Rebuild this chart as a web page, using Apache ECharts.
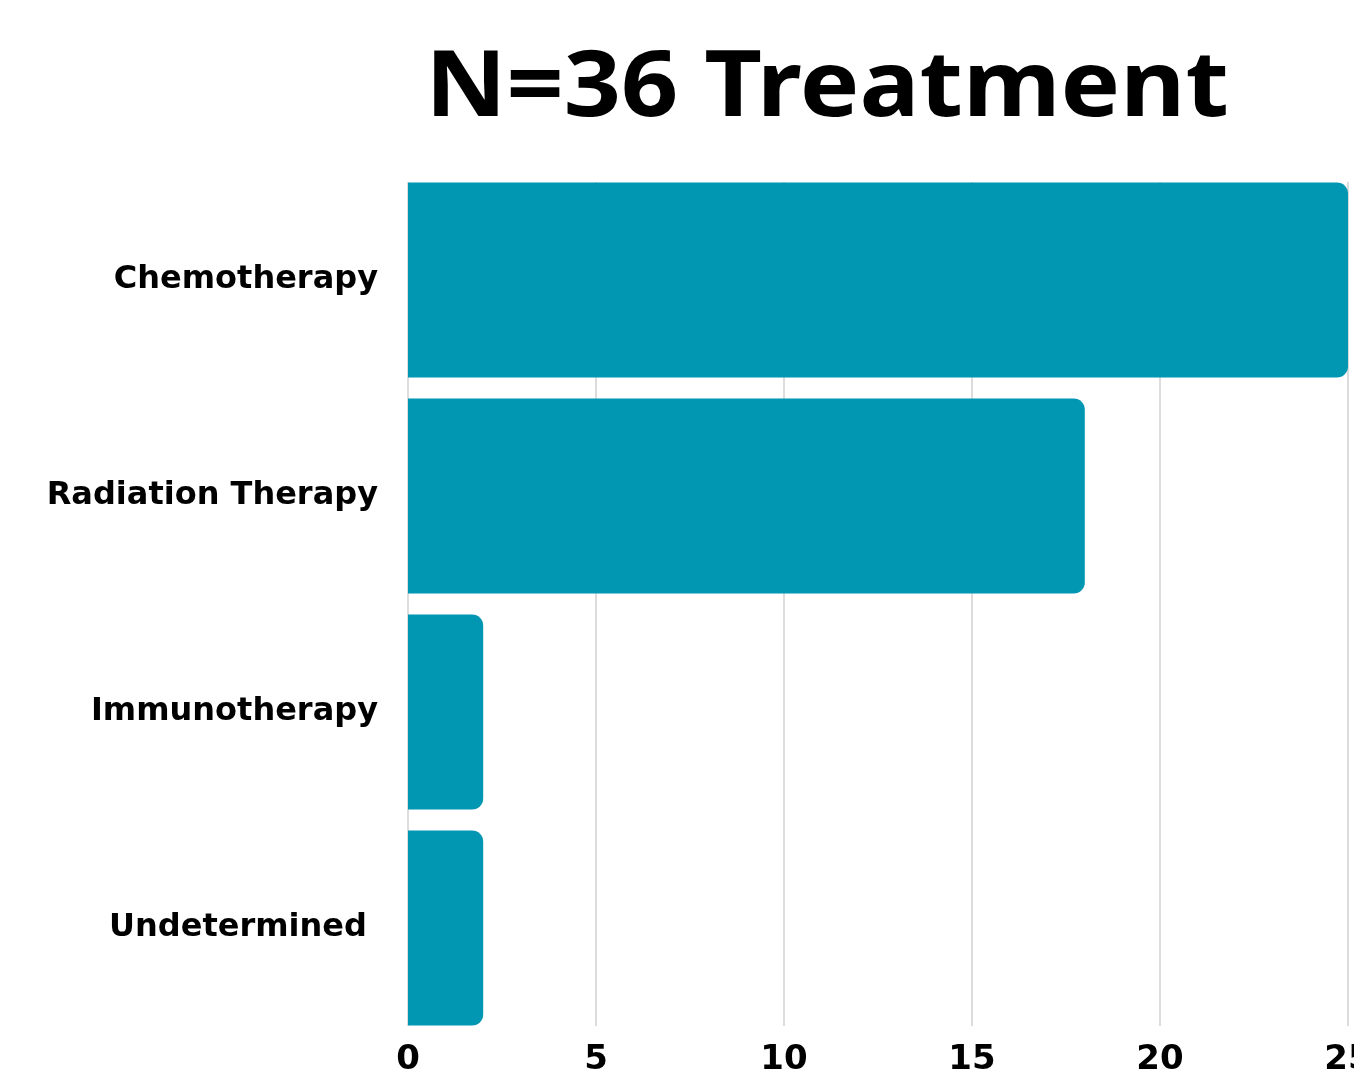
<!DOCTYPE html>
<html>
<head>
<meta charset="utf-8">
<title>N=36 Treatment</title>
<script src="https://cdn.jsdelivr.net/npm/echarts@6/dist/echarts.min.js"></script>
<style>
  html, body { margin: 0; padding: 0; background: #fff; }
  #chart { width: 1354px; height: 1072px; }
</style>
</head>
<body>
<div id="chart"></div>
<script>
// treatment counts
const categories = ["Chemotherapy", "Radiation Therapy", "Immunotherapy", "Undetermined "];
const counts = [25, 18, 2, 2];
const xTicks = [0, 5, 10, 15, 20, 25];
const titleText = "N=36 Treatment";

const barColor = "#0197B2";
const labelFont = "DejaVu Sans";

const chart = echarts.init(document.getElementById("chart"));

chart.setOption({
  backgroundColor: "#ffffff",
  animation: false,
  // title drawn as graphic text so it can be widened a little like the original
  graphic: [
    {
      type: "text",
      x: 827,
      y: 90,
      scaleX: 1.1,
      style: {
        text: titleText,
        fontFamily: "Noto Sans",
        fontWeight: "bold",
        fontSize: 91,
        fill: "#000",
        align: "center",
        verticalAlign: "middle"
      }
    }
  ],
  grid: [
    // bars
    { left: 408, right: 6, top: 172, height: 864, containLabel: false, outerBoundsMode: "none" },
    // grid lines + tick labels
    { left: 408, right: 6, top: 182, height: 844, containLabel: false, outerBoundsMode: "none" }
  ],
  xAxis: [
    {
      gridIndex: 0,
      type: "value",
      min: xTicks[0],
      max: xTicks[xTicks.length - 1],
      interval: 5,
      show: false
    },
    {
      gridIndex: 1,
      type: "value",
      min: xTicks[0],
      max: xTicks[xTicks.length - 1],
      interval: 5,
      axisLine: { show: false },
      axisTick: { show: false },
      splitLine: {
        show: true,
        lineStyle: { color: "#dcdcdc", width: 2 }
      },
      axisLabel: {
        margin: 17,
        fontFamily: labelFont,
        fontWeight: "bold",
        fontSize: 34,
        color: "#000"
      }
    }
  ],
  yAxis: [
    {
      gridIndex: 0,
      type: "category",
      inverse: true,
      data: categories,
      axisLine: { show: false },
      axisTick: { show: false },
      splitLine: { show: false },
      axisLabel: {
        margin: 30,
        fontFamily: labelFont,
        fontWeight: "bold",
        fontSize: 32,
        color: "#000"
      }
    },
    {
      gridIndex: 1,
      type: "category",
      inverse: true,
      data: categories,
      show: false
    }
  ],
  series: [
    {
      name: "Treatment",
      type: "bar",
      xAxisIndex: 0,
      yAxisIndex: 0,
      data: counts,
      barWidth: 195,
      itemStyle: {
        color: barColor,
        borderRadius: [0, 11, 11, 0]
      }
    }
  ]
});
</script>
</body>
</html>
